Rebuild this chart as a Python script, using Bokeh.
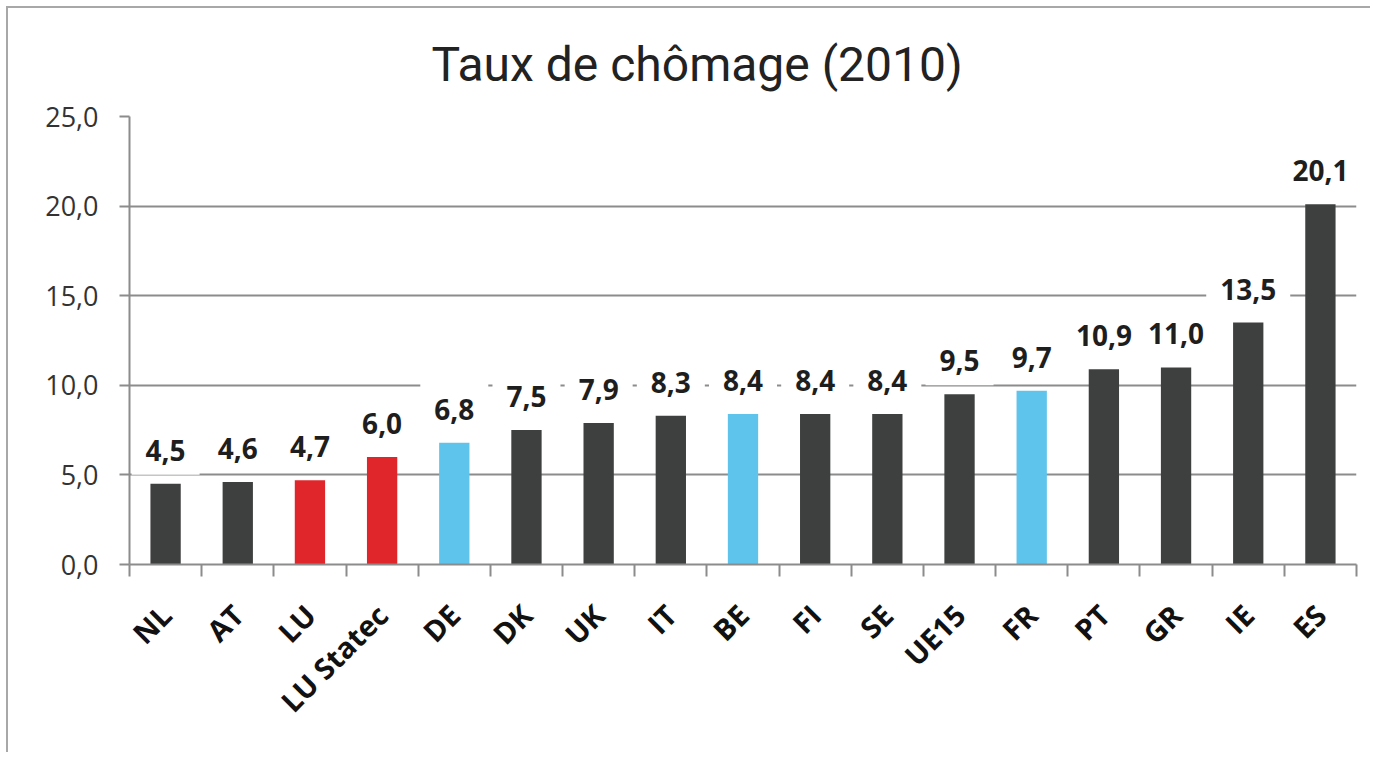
import math
from bokeh.plotting import figure
from bokeh.models import ColumnDataSource, FixedTicker, Label, Title
from bokeh.embed import file_html
from bokeh.resources import INLINE

# ---- data ----
countries = ["NL", "AT", "LU", "LU Statec", "DE", "DK", "UK", "IT", "BE",
             "FI", "SE", "UE15", "FR", "PT", "GR", "IE", "ES"]
rates = [4.5, 4.6, 4.7, 6.0, 6.8, 7.5, 7.9, 8.3, 8.4,
         8.4, 8.4, 9.5, 9.7, 10.9, 11.0, 13.5, 20.1]
groups = ["autre", "autre", "LU", "LU", "voisin", "autre", "autre", "autre", "voisin",
          "autre", "autre", "autre", "voisin", "autre", "autre", "autre", "autre"]
y_ticks = [0, 5, 10, 15, 20, 25]
y_tick_labels = ["0,0", "5,0", "10,0", "15,0", "20,0", "25,0"]
title_text = "Taux de chômage (2010)"

palette = {"autre": "#3e403f", "LU": "#e1262b", "voisin": "#5fc4ec"}

n = len(countries)
xs = [i + 0.5 for i in range(n)]
src = ColumnDataSource(dict(
    x=xs,
    rate=rates,
    country=countries,
    color=[palette[g] for g in groups],
    label=[f"{v:.1f}".replace(".", ",") for v in rates],
))

p = figure(width=1364, height=746, x_range=(0, n), y_range=(0, 25),
           output_backend="svg", toolbar_location=None,
           min_border_left=121, min_border_right=16,
           min_border_top=108, min_border_bottom=190)

p.styles = {"border-left": "2px solid #a8a8a8", "border-top": "2px solid #a8a8a8",
            "margin-left": "6px", "margin-top": "6px"}

t = Title(text=title_text, align="left", text_font="Roboto",
          text_font_size="48px", text_font_style="normal",
          text_color="#222222", offset=302, standoff=48)
p.add_layout(t, "above")

p.outline_line_color = None
p.background_fill_color = "white"
p.border_fill_color = "white"

grid_col = "#8c8c8c"
p.xgrid.visible = False
p.ygrid.ticker = FixedTicker(ticks=y_ticks)
p.ygrid.grid_line_color = grid_col
p.ygrid.grid_line_width = 2

p.vbar(x="x", top="rate", width=0.42, fill_color="color", line_color=None, source=src)

# y axis
p.yaxis.ticker = FixedTicker(ticks=y_ticks)
p.yaxis.major_label_overrides = {t_: l for t_, l in zip(y_ticks, y_tick_labels)}
p.yaxis.axis_line_color = grid_col
p.yaxis.axis_line_width = 2
p.yaxis.major_tick_line_color = grid_col
p.yaxis.major_tick_line_width = 2
p.yaxis.major_tick_out = 10
p.yaxis.major_tick_in = 0
p.yaxis.minor_tick_line_color = None
p.yaxis.major_label_text_font = "Open Sans"
p.yaxis.major_label_text_font_size = "27px"
p.yaxis.major_label_text_color = "#333333"
p.yaxis.major_label_standoff = 21

# x axis: labels at bar centres, tick marks at category boundaries
p.xaxis.ticker = FixedTicker(ticks=xs, minor_ticks=list(range(n + 1)))
p.xaxis.major_label_overrides = {x: c for x, c in zip(xs, countries)}
p.xaxis.major_label_orientation = math.pi / 4
p.xaxis.axis_line_color = grid_col
p.xaxis.axis_line_width = 2
p.xaxis.major_tick_line_color = None
p.xaxis.minor_tick_line_color = grid_col
p.xaxis.minor_tick_line_width = 2
p.xaxis.minor_tick_out = 12
p.xaxis.minor_tick_in = 0
p.xaxis.major_label_text_font = "Open Sans"
p.xaxis.major_label_text_font_size = "29px"
p.xaxis.major_label_text_font_style = "bold"
p.xaxis.major_label_text_color = "#111111"
p.xaxis.major_label_standoff = 33

# value labels with white boxes (drawn below the axes)
for x, v, lab in zip(xs, rates, src.data["label"]):
    p.add_layout(Label(x=x, y=v, text=lab, text_align="center", text_baseline="bottom",
                       y_offset=9, text_font="Open Sans", text_font_size="28px",
                       text_font_style="bold", text_color="#1e1e1e",
                       background_fill_color="white", level="glyph",
                       padding=dict(left=14, right=14, top=16, bottom=14)))

open("out.html", "w").write(file_html(p, INLINE))
